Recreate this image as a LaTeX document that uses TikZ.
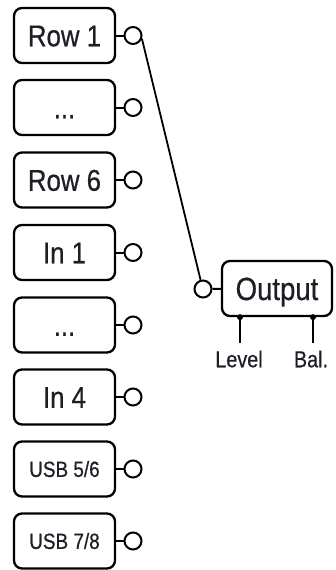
\documentclass[tikz,border=0pt]{standalone}
\usepackage{fontspec}
\setmainfont{Liberation Sans}[FakeStretch=0.86, FakeBold=0.6]
\usetikzlibrary{positioning}
\definecolor{ink}{HTML}{1E1E26}

\tikzset{
  chan/.style={draw, rounded corners=8pt, line width=2.3pt, minimum width=101pt, minimum height=55pt,
    inner sep=0pt, text=ink, font=\fontsize{30pt}{31pt}\selectfont, text height=21.5pt, text depth=0pt},
  usbchan/.style={chan, font=\fontsize{22pt}{23pt}\selectfont, text height=15.8pt},
  jack/.style={draw, circle, line width=2pt, minimum size=17pt, inner sep=0pt},
  stub/.style={line width=2pt},
  wire/.style={line width=1.8pt},
  lbl/.style={inner xsep=0pt, inner ysep=8pt, text=ink, font=\fontsize{23pt}{24pt}\selectfont,
    text height=16.5pt, text depth=0pt}
}

\begin{document}
\begin{tikzpicture}[x=1pt, y=-1pt]
	\useasboundingbox (0,0) rectangle (335,570);
	
	% input channels
	\node[chan] (row1) at (64.5, 35.5) {Row 1};
	\node[jack] (row1j) at (133, 35.5) {};
	\draw[stub] (row1) -- (row1j);
	
	\node[chan] (rowx) at (64.5, 107.5) {...};
	\node[jack] (rowxj) at (133, 107.5) {};
	\draw[stub] (rowx) -- (rowxj);
	
	\node[chan] (row6) at (64.5, 180) {Row 6};
	\node[jack] (row6j) at (133, 180) {};
	\draw[stub] (row6) -- (row6j);
	
	\node[chan] (in1) at (64.5, 252.5) {In 1};
	\node[jack] (in1j) at (133, 252.5) {};
	\draw[stub] (in1) -- (in1j);
	
	\node[chan] (inx) at (64.5, 325) {...};
	\node[jack] (inxj) at (133, 325) {};
	\draw[stub] (inx) -- (inxj);
	
	\node[chan] (in4) at (64.5, 397) {In 4};
	\node[jack] (in4j) at (133, 397) {};
	\draw[stub] (in4) -- (in4j);
	
	\node[usbchan] (usb56) at (64.5, 469) {USB 5/6};
	\node[jack] (usb56j) at (133, 469) {};
	\draw[stub] (usb56) -- (usb56j);
	
	\node[usbchan] (usb78) at (64.5, 541) {USB 7/8};
	\node[jack] (usb78j) at (133, 541) {};
	\draw[stub] (usb78) -- (usb78j);
	
	% output block
	\node[chan, minimum width=110pt, font=\fontsize{32pt}{33pt}\selectfont, text height=23pt] (out) at (277, 288.5) {Output};
	\node[jack] (outj) at (203, 289) {};
	\draw[stub] (outj) -- (out);
	
	\draw[wire] (row1j.-20) -- (outj.105);
	
	% level / balance controls
	\coordinate (lvlpin) at ([xshift=-37pt]out.south);
	\coordinate (balpin) at ([xshift=36pt]out.south);
	\node[lbl] (lvl) at (239, 359) {Level};
	\node[lbl] (bal) at (311, 359) {Bal.};
	\fill (lvlpin) circle (3pt);
	\fill (balpin) circle (3pt);
	\draw[stub] (lvlpin) -- (lvlpin |- lvl.north);
	\draw[stub] (balpin) -- (balpin |- bal.north);
\end{tikzpicture}
\end{document}
